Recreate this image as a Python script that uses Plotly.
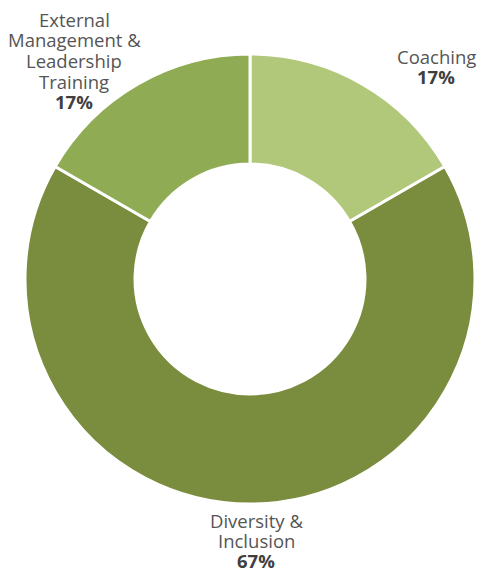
import plotly.graph_objects as go

labels = ["Coaching", "Diversity & Inclusion", "External Management & Leadership Training"]
values = [1, 4, 1]
colors = ["#b1c87b", "#7a8c3d", "#8fac54"]
label_lines = [["Coaching"], ["Diversity &", "Inclusion"], ["External", "Management &", "Leadership", "Training"]]
# label block: centre x (px), centre y of first line (px), line step (px)
label_pos = [(436, 56.5, 20.5), (256, 520, 20.2), (74, 19.5, 20.5)]

W, H = 480, 572
fig = go.Figure(go.Pie(
    labels=labels, values=values, hole=0.511, sort=False, direction="clockwise",
    rotation=0, marker=dict(colors=colors, line=dict(color="white", width=3)),
    textinfo="none", hoverinfo="label+percent", showlegend=False,
    domain=dict(x=[25 / W, 475 / W], y=[1 - 504 / H, 1 - 54 / H]),
))

total = sum(values)
annotations = []
for lines, v, (cx, cy, step) in zip(label_lines, values, label_pos):
    pct = f"{round(100 * v / total)}%"
    all_lines = lines + [pct]
    for i, line in enumerate(all_lines):
        is_pct = i == len(all_lines) - 1
        annotations.append(dict(
            x=cx / W, y=1 - (cy + i * step) / H, xref="paper", yref="paper",
            xanchor="center", yanchor="middle",
            text=f"<b>{line}</b>" if is_pct else line, showarrow=False, align="center",
            font=dict(family="Open Sans", size=18.5, color="#3f3f3f" if is_pct else "#555555"),
        ))

fig.update_layout(
    width=W, height=H, margin=dict(l=0, r=0, t=0, b=0),
    paper_bgcolor="white", plot_bgcolor="white", annotations=annotations,
)
fig.write_html("out.html")
